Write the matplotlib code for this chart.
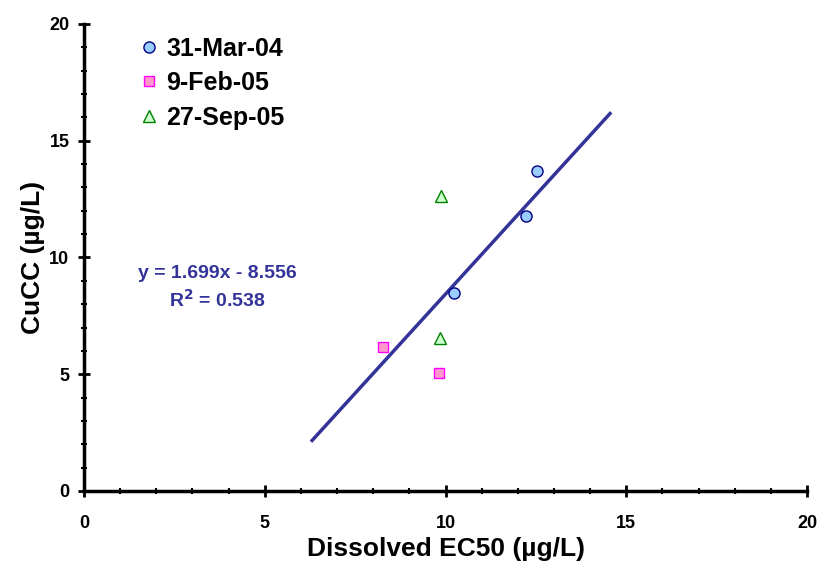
import matplotlib
matplotlib.use("Agg")
import matplotlib.pyplot as plt
from matplotlib.ticker import MultipleLocator

plt.rcParams['font.family'] = ['Liberation Sans', 'DejaVu Sans']
plt.rcParams['font.weight'] = 'bold'

mar_x = [12.53, 12.23, 10.24]
mar_y = [13.70, 11.78, 8.48]
feb_x = [8.27, 9.82]
feb_y = [6.17, 5.05]
sep_x = [9.88, 9.85]
sep_y = [12.63, 6.55]
fit_x = [6.31, 14.55]
slope = 1.699
intercept = -8.556
fit_y = [slope * v + intercept for v in fit_x]

fig = plt.figure(figsize=(8.18, 5.63), dpi=100)
ax = fig.add_axes([0.1027, 0.1279, 0.8839, 0.8295])

ax.plot(fit_x, fit_y, color='#333399', lw=2.5, zorder=2)
ax.plot(mar_x, mar_y, 'o', ms=8, mfc='#99ccff', mec='#000080', mew=1, ls='none', label='31-Mar-04', zorder=3)
ax.plot(feb_x, feb_y, 's', ms=7.5, mfc='#ff99cc', mec='#ff00ff', mew=1, ls='none', label='9-Feb-05', zorder=3)
ax.plot(sep_x, sep_y, '^', ms=8, mfc='#ccffcc', mec='#008000', mew=1, ls='none', label='27-Sep-05', zorder=3)

ax.set_xlim(0, 20)
ax.set_ylim(0, 20)
ax.xaxis.set_major_locator(MultipleLocator(5))
ax.xaxis.set_minor_locator(MultipleLocator(1))
ax.yaxis.set_major_locator(MultipleLocator(5))
ax.yaxis.set_minor_locator(MultipleLocator(1))
ax.tick_params(which='major', direction='inout', length=9, width=2, labelsize=13)
ax.tick_params(axis='x', which='major', pad=12.5)
ax.tick_params(axis='y', which='major', pad=6)
ax.tick_params(which='minor', direction='inout', length=5, width=1.5)
for lab in ax.get_xticklabels() + ax.get_yticklabels():
    lab.set_fontweight('bold')
ax.spines['top'].set_visible(False)
ax.spines['right'].set_visible(False)
ax.spines['left'].set_linewidth(2.5)
ax.spines['bottom'].set_linewidth(2.5)

ax.set_xlabel('Dissolved EC50 (µg/L)', fontsize=19, fontweight='bold', labelpad=4)
ax.set_ylabel('CuCC (µg/L)', fontsize=19, fontweight='bold', labelpad=3)

leg = ax.legend(loc='upper left', bbox_to_anchor=(0.052, 1.005), frameon=False,
                prop={'size': 18, 'weight': 'bold'}, handletextpad=0.2, labelspacing=0.42,
                handlelength=1.0, borderaxespad=0.2)

ax.text(3.7, 9.3, 'y = 1.699x - 8.556', color='#333399', fontsize=14, fontweight='bold', ha='center', va='center')
ax.text(3.7, 8.2, 'R$^{\\mathbf{2}}$ = 0.538', color='#333399', fontsize=14, fontweight='bold', ha='center', va='center')

fig.savefig('out.png', dpi=100)
